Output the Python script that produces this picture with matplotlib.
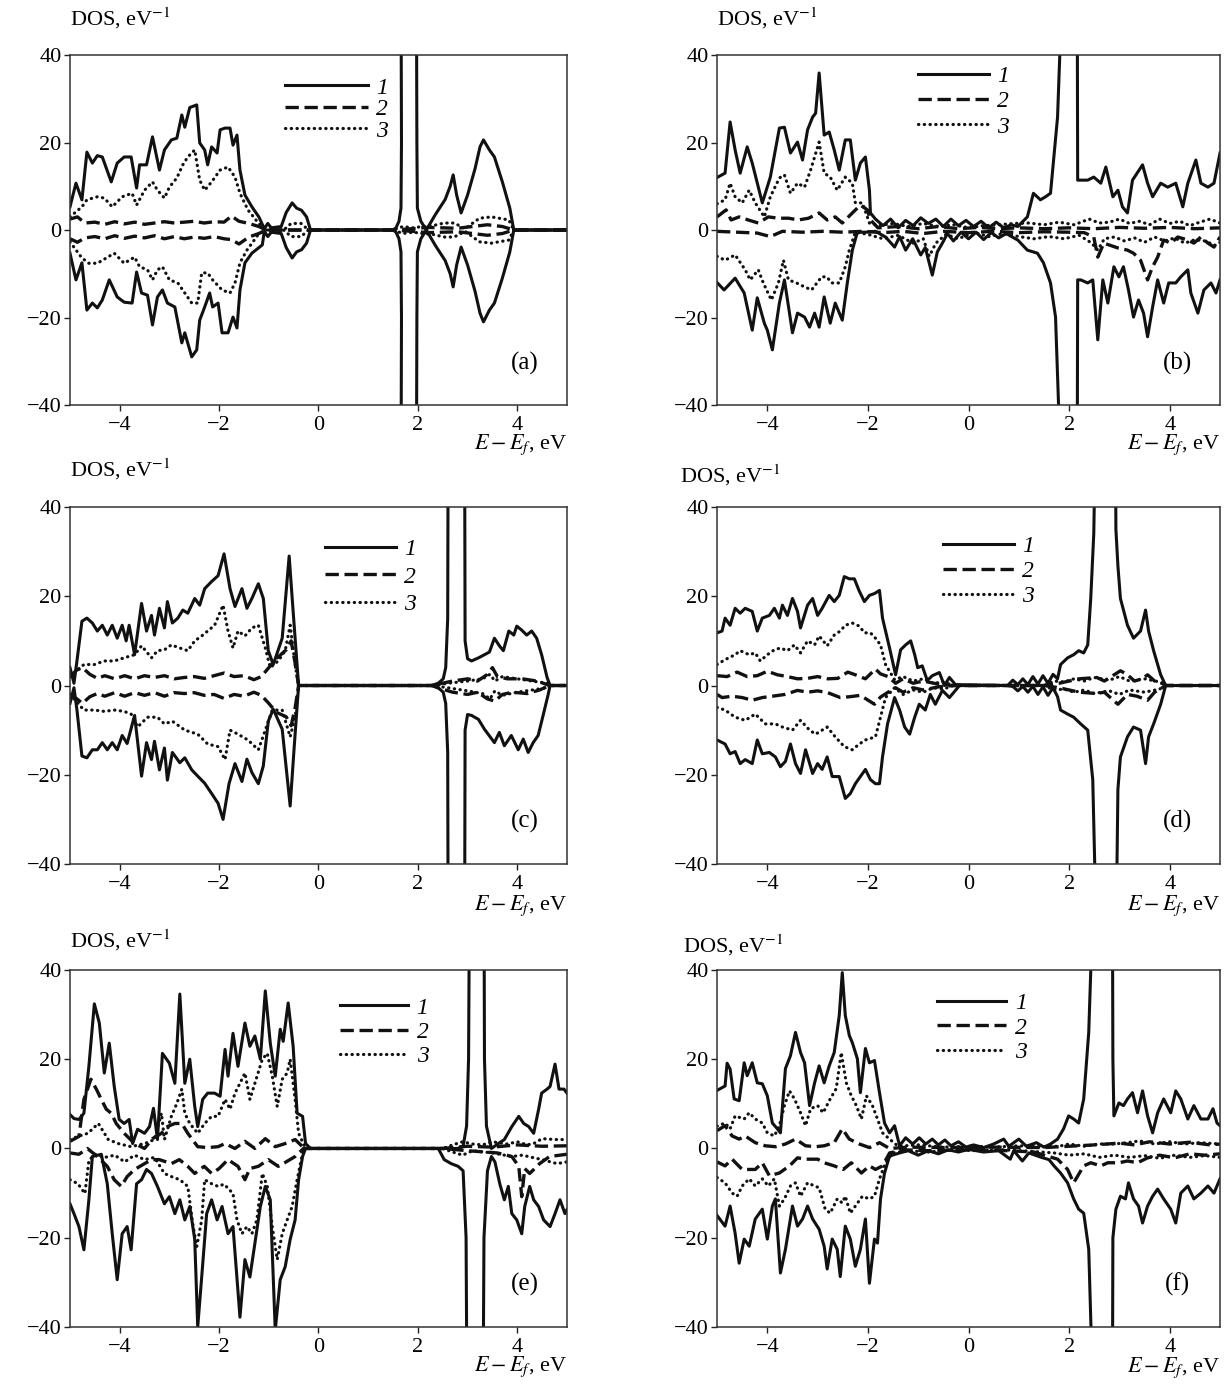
import matplotlib
matplotlib.use("Agg")
import matplotlib.pyplot as plt

plt.rcParams['font.family'] = ['Liberation Serif', 'DejaVu Serif']
plt.rcParams['mathtext.fontset'] = 'stix'

# spin-resolved DOS: (E - Ef [eV], DOS [1/eV])
# s = total (1), h = dashed (2), d = dotted (3); up > 0, dn < 0

a_s_up = [(-5.0,5.3),(-4.88,10.7),(-4.76,6.9),(-4.66,17.8),(-4.55,15.3),(-4.45,17.0),(-4.35,16.7),(-4.17,11.0),(-4.05,15.3),(-3.91,16.7),(-3.77,16.7),(-3.66,9.6),(-3.60,14.9),(-3.46,14.9),(-3.34,21.3),(-3.20,13.7),(-3.10,18.3),(-2.96,20.6),(-2.85,21.0),(-2.75,26.3),(-2.69,23.5),(-2.59,28.0),(-2.45,28.6),(-2.39,19.9),(-2.29,18.3),(-2.23,14.9),(-2.15,19.0),(-2.04,17.6),(-1.98,22.9),(-1.88,23.3),(-1.78,23.3),(-1.72,19.4),(-1.64,21.7),(-1.58,13.7),(-1.48,8.0),(-1.34,5.3),(-1.20,3.0),(-1.09,0.3),(-1.02,1.5),(-0.95,0.5),(-0.75,0.8),(-0.65,4.0),(-0.53,6.2),(-0.44,5.0),(-0.34,4.5),(-0.24,3.0),(-0.16,0.0),(1.50,0.0),(1.56,0.5),(1.62,2.0),(1.66,5.0),(1.67,20.0),(1.66,60.0),(1.97,60.0),(1.98,20.0),(1.99,5.0),(2.06,2.0),(2.17,0.0),(2.35,3.5),(2.55,7.0),(2.65,10.0),(2.71,12.6),(2.78,8.0),(2.87,3.9),(3.00,8.0),(3.15,14.0),(3.25,19.0),(3.32,20.6),(3.44,18.3),(3.54,16.7),(3.70,11.0),(3.85,5.0),(3.93,0.0),(5.0,0.0)]
a_s_dn = [(-5.0,-5.3),(-4.88,-11.4),(-4.76,-7.5),(-4.66,-18.3),(-4.55,-16.7),(-4.45,-17.8),(-4.35,-16.0),(-4.21,-11.4),(-4.05,-15.3),(-3.91,-16.5),(-3.75,-16.7),(-3.66,-9.6),(-3.56,-14.4),(-3.44,-14.9),(-3.34,-21.7),(-3.24,-15.3),(-3.14,-13.7),(-3.04,-16.7),(-2.89,-17.6),(-2.75,-25.8),(-2.69,-23.5),(-2.55,-29.0),(-2.45,-27.4),(-2.39,-20.6),(-2.29,-17.6),(-2.19,-14.4),(-2.13,-17.6),(-2.02,-16.7),(-1.94,-23.5),(-1.82,-23.5),(-1.72,-19.9),(-1.64,-22.4),(-1.58,-13.7),(-1.48,-7.5),(-1.34,-5.3),(-1.13,-3.4),(-1.09,-0.3),(-1.02,-1.5),(-0.95,-0.5),(-0.75,-0.8),(-0.65,-4.0),(-0.53,-6.4),(-0.44,-5.0),(-0.34,-4.5),(-0.24,-3.0),(-0.16,0.0),(1.50,0.0),(1.56,-0.5),(1.62,-2.0),(1.66,-5.0),(1.67,-20.0),(1.66,-60.0),(1.97,-60.0),(1.98,-20.0),(1.99,-5.0),(2.06,-2.0),(2.17,0.0),(2.35,-3.5),(2.55,-7.0),(2.65,-10.0),(2.71,-13.0),(2.78,-8.0),(2.87,-3.9),(3.00,-8.0),(3.15,-14.0),(3.25,-19.0),(3.32,-21.0),(3.44,-18.3),(3.54,-16.7),(3.70,-11.0),(3.85,-5.0),(3.93,0.0),(5.0,0.0)]
a_h_up = [(-5.0,2.5),(-4.85,3.0),(-4.7,1.6),(-4.5,1.8),(-4.3,1.3),(-4.1,1.9),(-3.9,1.4),(-3.7,1.8),(-3.5,1.3),(-3.3,1.6),(-3.1,1.9),(-2.9,1.6),(-2.7,1.8),(-2.5,2.0),(-2.3,1.6),(-2.1,1.9),(-1.9,1.8),(-1.75,3.2),(-1.6,2.0),(-1.4,1.5),(-1.2,0.8),(-1.05,0.0),(1.5,0.0),(2.0,0.4),(2.2,0.6),(2.5,0.5),(2.8,0.4),(3.1,0.8),(3.4,1.2),(3.7,0.8),(3.93,0.0),(5.0,0.0)]
a_h_dn = [(-5.0,-2.0),(-4.85,-2.8),(-4.7,-1.8),(-4.5,-1.5),(-4.3,-2.0),(-4.1,-1.3),(-3.9,-1.9),(-3.7,-1.4),(-3.5,-1.8),(-3.3,-1.3),(-3.1,-2.0),(-2.9,-1.5),(-2.7,-2.0),(-2.5,-1.6),(-2.3,-1.9),(-2.1,-1.5),(-1.9,-2.0),(-1.75,-2.2),(-1.6,-3.2),(-1.4,-1.6),(-1.2,-0.8),(-1.05,0.0),(1.5,0.0),(2.0,-0.4),(2.2,-0.6),(2.5,-0.5),(2.8,-0.4),(3.1,-0.8),(3.4,-1.2),(3.7,-0.8),(3.93,0.0),(5.0,0.0)]
a_d_up = [(-5.0,3.0),(-4.76,5.3),(-4.66,6.9),(-4.45,7.6),(-4.31,7.3),(-4.15,5.3),(-3.95,7.6),(-3.75,8.4),(-3.66,5.7),(-3.50,9.1),(-3.34,11.0),(-3.24,9.1),(-3.10,7.3),(-3.00,9.8),(-2.85,11.9),(-2.73,14.9),(-2.63,16.7),(-2.49,18.3),(-2.39,11.4),(-2.29,9.1),(-2.15,11.0),(-1.98,13.7),(-1.82,14.4),(-1.68,12.1),(-1.58,8.4),(-1.42,4.6),(-1.21,1.6),(-1.07,0.0),(-0.70,0.0),(-0.55,1.5),(-0.35,1.5),(-0.2,0.0),(1.5,0.0),(1.7,0.8),(1.9,0.5),(2.1,0.8),(2.3,1.0),(2.53,1.6),(2.73,1.6),(2.95,0.3),(3.24,2.7),(3.48,3.0),(3.83,2.3),(3.93,0.0),(5.0,0.0)]
a_d_dn = [(-5.0,-2.7),(-4.76,-6.4),(-4.62,-7.6),(-4.45,-7.6),(-4.27,-6.4),(-4.11,-5.3),(-3.91,-7.6),(-3.70,-6.2),(-3.60,-8.4),(-3.44,-9.1),(-3.34,-11.4),(-3.24,-9.1),(-3.14,-8.4),(-3.00,-11.4),(-2.83,-12.1),(-2.69,-14.4),(-2.55,-16.7),(-2.43,-16.7),(-2.35,-9.8),(-2.23,-9.8),(-2.13,-11.4),(-1.94,-13.7),(-1.78,-14.4),(-1.68,-12.1),(-1.58,-7.5),(-1.44,-4.6),(-1.21,-1.0),(-1.07,0.0),(-0.70,0.0),(-0.55,-1.5),(-0.35,-1.5),(-0.2,0.0),(1.5,0.0),(1.7,-0.8),(1.9,-0.5),(2.1,-0.8),(2.3,-1.0),(2.53,-1.6),(2.73,-1.6),(2.95,-0.3),(3.24,-2.7),(3.48,-3.0),(3.83,-2.3),(3.93,0.0),(5.0,0.0)]

b_s_up = [(-5.0,12.0),(-4.84,13.0),(-4.74,24.7),(-4.64,18.3),(-4.54,13.0),(-4.40,19.0),(-4.30,15.3),(-4.10,6.2),(-3.94,12.1),(-3.76,23.3),(-3.66,23.5),(-3.54,17.6),(-3.40,20.1),(-3.30,16.0),(-3.20,22.9),(-3.10,25.8),(-3.04,26.7),(-2.97,35.9),(-2.87,21.7),(-2.77,22.4),(-2.67,18.3),(-2.57,13.7),(-2.45,20.6),(-2.35,20.6),(-2.25,11.4),(-2.15,15.3),(-2.05,16.7),(-1.97,9.1),(-1.95,3.9),(-1.85,2.5),(-1.70,1.0),(-1.55,2.5),(-1.40,0.5),(-1.25,2.2),(-1.10,1.0),(-0.95,2.8),(-0.80,1.5),(-0.65,2.5),(-0.50,0.8),(-0.35,2.5),(-0.20,1.0),(-0.05,2.2),(0.10,0.8),(0.25,2.0),(0.40,0.5),(0.55,1.8),(0.70,0.5),(0.85,1.2),(0.98,0.8),(1.17,3.0),(1.29,8.4),(1.43,6.9),(1.53,7.6),(1.63,8.4),(1.77,25.8),(1.83,45.0),(1.85,60.0),(2.16,60.0),(2.17,11.4),(2.23,11.4),(2.37,11.4),(2.49,12.1),(2.63,10.7),(2.73,14.4),(2.87,7.6),(2.97,9.1),(3.06,5.3),(3.16,3.9),(3.26,11.4),(3.46,14.9),(3.56,10.7),(3.66,7.6),(3.82,10.7),(3.96,9.8),(4.12,10.7),(4.26,5.3),(4.36,10.7),(4.52,16.0),(4.62,10.7),(4.76,9.8),(4.88,10.7),(5.0,17.6)]
b_s_dn = [(-5.0,-12.0),(-4.86,-13.7),(-4.64,-11.0),(-4.46,-14.4),(-4.30,-22.9),(-4.20,-15.5),(-4.06,-21.3),(-4.00,-22.9),(-3.90,-27.4),(-3.76,-16.7),(-3.66,-11.4),(-3.50,-23.5),(-3.40,-19.0),(-3.26,-19.9),(-3.16,-22.2),(-3.06,-19.0),(-2.97,-22.2),(-2.87,-15.3),(-2.75,-21.3),(-2.65,-16.7),(-2.51,-20.6),(-2.41,-12.1),(-2.31,-4.6),(-2.21,-0.5),(-2.05,-0.5),(-1.85,-0.3),(-1.65,-1.6),(-1.47,-3.9),(-1.37,-1.5),(-1.25,-4.6),(-1.11,-2.0),(-0.95,-5.7),(-0.86,-4.0),(-0.72,-10.3),(-0.62,-5.0),(-0.52,-3.0),(-0.42,-0.8),(-0.30,-2.5),(-0.15,-0.5),(0.0,-2.0),(0.15,-0.5),(0.30,-2.2),(0.45,-0.6),(0.60,-1.8),(0.75,-0.8),(0.90,-1.8),(0.98,-2.3),(1.17,-4.6),(1.37,-5.3),(1.49,-7.5),(1.63,-12.1),(1.73,-19.9),(1.79,-40.0),(1.80,-60.0),(2.16,-60.0),(2.17,-11.4),(2.23,-11.4),(2.37,-12.1),(2.47,-11.4),(2.57,-25.1),(2.67,-11.4),(2.77,-16.7),(2.89,-8.4),(2.99,-10.7),(3.08,-8.4),(3.18,-13.7),(3.28,-19.9),(3.38,-16.0),(3.48,-19.0),(3.56,-24.4),(3.66,-17.6),(3.76,-11.4),(3.88,-16.7),(3.98,-12.1),(4.12,-12.1),(4.22,-10.7),(4.36,-9.1),(4.42,-14.4),(4.56,-19.0),(4.68,-13.7),(4.82,-12.1),(4.92,-14.4),(5.0,-11.4)]
b_h_up = [(-5.0,3.0),(-4.82,4.6),(-4.72,2.3),(-4.56,3.0),(-4.38,2.3),(-4.18,1.6),(-3.98,3.0),(-3.78,2.7),(-3.58,2.7),(-3.38,2.3),(-3.18,2.7),(-2.97,3.9),(-2.81,2.3),(-2.65,3.0),(-2.51,1.6),(-2.31,3.9),(-2.15,5.7),(-2.01,4.6),(-1.95,2.3),(-1.8,0.5),(-1.4,0.8),(-1.0,0.3),(-0.6,0.8),(-0.2,0.3),(0.2,0.6),(0.6,0.3),(1.0,0.5),(1.5,0.3),(2.0,0.5),(2.5,0.3),(3.0,0.6),(3.5,0.4),(4.0,0.6),(4.5,0.3),(5.0,0.5)]
b_h_dn = [(-5.0,-0.3),(-4.6,-0.5),(-4.2,-0.7),(-3.94,-1.5),(-3.7,-0.3),(-3.3,-0.5),(-2.9,-0.3),(-2.5,-0.5),(-2.1,-0.3),(-1.7,-0.6),(-1.3,-0.3),(-0.9,-0.8),(-0.5,-0.3),(0.0,-0.6),(0.5,-0.3),(1.0,-0.6),(1.5,-0.4),(2.0,-0.5),(2.3,-0.6),(2.49,-1.6),(2.57,-6.2),(2.69,-3.0),(2.97,-4.1),(3.16,-4.6),(3.28,-5.3),(3.42,-6.9),(3.56,-11.4),(3.66,-8.4),(3.76,-6.2),(3.88,-2.3),(4.02,-3.0),(4.16,-1.6),(4.36,-2.3),(4.48,-3.0),(4.62,-1.6),(4.76,-3.0),(4.88,-3.9),(5.0,-1.6)]
b_d_up = [(-5.0,6.0),(-4.84,6.9),(-4.74,10.7),(-4.64,7.6),(-4.50,6.2),(-4.36,9.1),(-4.24,6.2),(-4.06,3.0),(-3.94,7.6),(-3.76,11.9),(-3.66,12.6),(-3.54,8.4),(-3.40,10.7),(-3.26,9.8),(-3.14,13.7),(-2.97,20.1),(-2.87,13.0),(-2.75,12.1),(-2.61,9.1),(-2.45,12.1),(-2.31,10.7),(-2.25,6.2),(-2.11,6.2),(-1.97,1.6),(-1.8,1.0),(-1.5,1.5),(-1.2,0.8),(-0.9,1.5),(-0.6,0.8),(-0.3,1.2),(0.0,0.5),(0.3,1.0),(0.6,1.2),(0.9,1.5),(1.2,1.6),(1.5,1.2),(1.8,1.8),(2.1,1.2),(2.4,2.5),(2.6,1.6),(2.8,1.8),(3.0,2.5),(3.2,1.5),(3.4,2.0),(3.6,1.2),(3.8,2.5),(4.0,1.5),(4.2,2.0),(4.4,1.0),(4.6,1.8),(4.8,2.5),(5.0,1.6)]
b_d_dn = [(-5.0,-6.0),(-4.84,-6.9),(-4.64,-5.7),(-4.44,-9.1),(-4.34,-11.4),(-4.18,-9.1),(-4.08,-12.1),(-3.92,-16.0),(-3.78,-12.1),(-3.68,-6.9),(-3.58,-11.4),(-3.42,-12.1),(-3.26,-13.0),(-3.12,-13.7),(-2.92,-10.7),(-2.82,-10.7),(-2.72,-12.1),(-2.57,-12.1),(-2.45,-8.4),(-2.37,-4.6),(-2.25,-0.5),(-2.0,-1.0),(-1.7,-2.0),(-1.4,-1.2),(-1.1,-3.0),(-0.9,-2.0),(-0.78,-6.0),(-0.65,-3.0),(-0.45,-1.0),(-0.2,-2.0),(0.1,-0.5),(0.4,-1.5),(0.7,-0.8),(1.0,-1.5),(1.3,-2.0),(1.6,-1.5),(1.9,-2.0),(2.2,-1.2),(2.45,-3.0),(2.57,-4.6),(2.7,-2.0),(2.9,-1.6),(3.1,-2.5),(3.3,-1.8),(3.5,-2.8),(3.7,-1.6),(3.9,-2.5),(4.1,-1.8),(4.3,-3.0),(4.5,-2.2),(4.7,-2.5),(4.9,-3.5),(5.0,-2.8)]

c_s_up = [(-5.0,4.0),(-4.92,0.5),(-4.86,5.5),(-4.76,14.4),(-4.66,15.1),(-4.55,14.0),(-4.45,12.2),(-4.35,13.5),(-4.25,11.3),(-4.15,13.5),(-4.05,10.6),(-3.95,13.5),(-3.87,10.0),(-3.81,13.5),(-3.70,6.9),(-3.56,18.4),(-3.46,12.2),(-3.36,15.7),(-3.30,11.3),(-3.20,17.3),(-3.10,12.9),(-3.04,18.8),(-2.94,14.0),(-2.83,15.1),(-2.73,16.9),(-2.63,16.2),(-2.49,19.5),(-2.39,18.0),(-2.29,21.7),(-2.15,23.3),(-2.02,24.6),(-1.90,29.5),(-1.78,21.7),(-1.68,17.7),(-1.54,21.7),(-1.44,17.3),(-1.34,19.5),(-1.21,22.8),(-1.11,19.5),(-1.01,7.8),(-0.91,4.7),(-0.73,10.6),(-0.59,29.0),(-0.51,16.6),(-0.40,0.0),(2.27,0.0),(2.41,0.5),(2.51,1.5),(2.56,4.0),(2.60,15.0),(2.61,60.0),(2.94,60.0),(2.95,10.0),(3.00,6.0),(3.08,5.5),(3.22,6.2),(3.34,6.9),(3.44,7.5),(3.54,10.6),(3.64,8.9),(3.72,7.8),(3.83,12.2),(3.93,11.3),(3.99,13.3),(4.09,12.4),(4.19,11.3),(4.29,12.2),(4.39,10.6),(4.49,6.9),(4.60,1.8),(4.66,0.0),(5.0,0.0)]
c_s_dn = [(-5.0,-4.0),(-4.92,-0.5),(-4.86,-5.5),(-4.76,-15.8),(-4.66,-16.2),(-4.55,-14.4),(-4.45,-14.4),(-4.35,-12.8),(-4.25,-14.4),(-4.15,-12.8),(-4.05,-14.4),(-3.95,-11.2),(-3.85,-13.0),(-3.70,-6.7),(-3.56,-20.3),(-3.46,-12.8),(-3.36,-16.6),(-3.30,-12.5),(-3.20,-18.9),(-3.10,-14.0),(-3.04,-21.2),(-2.94,-15.0),(-2.79,-17.3),(-2.69,-16.2),(-2.55,-18.9),(-2.43,-20.3),(-2.29,-21.9),(-2.15,-24.2),(-2.02,-26.4),(-1.92,-30.0),(-1.80,-22.0),(-1.68,-17.5),(-1.54,-21.5),(-1.44,-16.5),(-1.34,-19.5),(-1.21,-22.0),(-1.11,-18.0),(-1.01,-8.0),(-0.91,-5.3),(-0.73,-9.8),(-0.57,-27.0),(-0.49,-14.0),(-0.40,0.0),(2.27,0.0),(2.41,-0.5),(2.51,-1.5),(2.56,-4.0),(2.60,-15.0),(2.61,-60.0),(2.94,-60.0),(2.95,-10.0),(3.00,-6.5),(3.08,-6.7),(3.22,-7.6),(3.34,-9.8),(3.54,-12.8),(3.64,-10.5),(3.74,-13.5),(3.88,-11.2),(4.02,-14.4),(4.12,-12.0),(4.22,-15.0),(4.32,-12.8),(4.42,-11.2),(4.52,-6.7),(4.62,-2.1),(4.66,0.0),(5.0,0.0)]
c_h_up = [(-5.0,2.0),(-4.86,3.5),(-4.75,4.0),(-4.6,2.5),(-4.45,1.6),(-4.3,2.2),(-4.1,1.5),(-3.9,2.2),(-3.7,1.5),(-3.5,2.2),(-3.3,1.8),(-3.1,2.2),(-2.9,1.5),(-2.7,1.8),(-2.5,2.0),(-2.3,1.6),(-2.1,2.2),(-1.9,2.8),(-1.7,2.0),(-1.5,2.2),(-1.3,1.3),(-1.15,2.0),(-1.0,4.0),(-0.85,6.0),(-0.65,8.0),(-0.55,10.0),(-0.47,5.0),(-0.40,0.0),(2.30,0.0),(2.4,0.3),(2.7,1.0),(3.0,1.5),(3.2,1.0),(3.4,2.5),(3.5,4.0),(3.6,2.0),(3.8,1.5),(4.1,1.5),(4.4,1.0),(4.65,0.0),(5.0,0.0)]
c_h_dn = [(-5.0,-2.0),(-4.86,-3.0),(-4.75,-4.0),(-4.6,-2.5),(-4.45,-1.8),(-4.3,-2.4),(-4.1,-1.6),(-3.9,-2.4),(-3.7,-1.6),(-3.5,-2.2),(-3.3,-1.6),(-3.1,-2.4),(-2.9,-1.6),(-2.7,-1.8),(-2.5,-1.6),(-2.3,-2.2),(-2.1,-2.0),(-1.9,-2.9),(-1.7,-2.0),(-1.5,-2.4),(-1.3,-1.5),(-1.15,-2.2),(-1.0,-4.0),(-0.85,-6.0),(-0.65,-7.0),(-0.55,-9.0),(-0.47,-5.0),(-0.40,0.0),(2.30,0.0),(2.4,-0.5),(2.7,-1.5),(3.0,-2.0),(3.2,-1.5),(3.4,-3.0),(3.55,-3.5),(3.7,-2.0),(3.9,-1.5),(4.2,-1.8),(4.45,-1.0),(4.65,0.0),(5.0,0.0)]
c_d_up = [(-5.0,2.0),(-4.72,4.7),(-4.51,4.7),(-4.31,5.5),(-4.11,5.5),(-3.91,6.2),(-3.70,6.9),(-3.56,8.9),(-3.36,6.2),(-3.24,7.8),(-3.10,8.0),(-2.96,9.1),(-2.79,8.4),(-2.63,7.8),(-2.49,10.0),(-2.35,11.1),(-2.23,12.2),(-2.09,13.5),(-1.92,18.0),(-1.82,12.2),(-1.72,8.4),(-1.62,12.2),(-1.48,11.1),(-1.34,12.9),(-1.21,13.5),(-1.07,8.4),(-0.97,4.0),(-0.81,5.5),(-0.67,7.8),(-0.57,13.5),(-0.47,4.7),(-0.40,0.0),(2.30,0.0),(2.6,0.5),(3.0,1.0),(3.3,1.5),(3.45,2.5),(3.55,1.0),(3.7,2.0),(4.0,1.5),(4.3,1.0),(4.6,0.5),(4.7,0.0),(5.0,0.0)]
c_d_dn = [(-5.0,-2.0),(-4.72,-5.5),(-4.51,-5.5),(-4.31,-5.8),(-4.11,-5.5),(-3.91,-5.8),(-3.77,-6.4),(-3.64,-9.3),(-3.44,-7.1),(-3.24,-7.1),(-3.10,-8.6),(-2.94,-8.0),(-2.69,-10.0),(-2.43,-10.9),(-2.23,-13.1),(-2.02,-13.7),(-1.88,-16.6),(-1.78,-10.0),(-1.62,-10.9),(-1.42,-12.2),(-1.21,-14.4),(-1.07,-10.0),(-0.93,-5.5),(-0.73,-5.5),(-0.57,-11.5),(-0.47,-7.1),(-0.40,0.0),(2.30,0.0),(2.6,-0.5),(3.0,-1.2),(3.3,-1.8),(3.45,-3.0),(3.55,-1.2),(3.7,-2.2),(4.0,-1.5),(4.3,-1.0),(4.6,-0.5),(4.7,0.0),(5.0,0.0)]

d_s_up = [(-5.0,11.8),(-4.90,12.2),(-4.84,15.1),(-4.74,13.5),(-4.64,17.3),(-4.54,16.2),(-4.44,17.3),(-4.30,16.6),(-4.20,12.2),(-4.10,15.1),(-3.96,15.7),(-3.86,17.3),(-3.76,15.1),(-3.70,18.0),(-3.60,15.7),(-3.50,19.5),(-3.40,16.6),(-3.34,12.9),(-3.20,18.0),(-3.10,19.5),(-3.00,15.7),(-2.91,17.3),(-2.77,20.2),(-2.67,18.8),(-2.57,20.2),(-2.47,24.4),(-2.37,23.9),(-2.27,23.9),(-2.17,21.1),(-2.07,18.8),(-1.97,20.2),(-1.87,20.6),(-1.77,21.3),(-1.71,15.1),(-1.57,8.4),(-1.45,2.4),(-1.35,8.0),(-1.25,9.1),(-1.15,10.0),(-1.07,6.9),(-1.01,4.0),(-0.92,4.4),(-0.82,1.1),(-0.72,2.2),(-0.58,2.9),(-0.48,0.0),(-0.38,1.8),(-0.26,0.2),(0.78,0.0),(0.88,1.2),(0.98,0.2),(1.08,1.5),(1.18,0.2),(1.28,2.0),(1.38,0.3),(1.48,2.2),(1.58,0.5),(1.68,2.5),(1.77,1.5),(1.83,4.7),(1.97,6.2),(2.09,6.9),(2.19,7.8),(2.29,7.3),(2.37,9.1),(2.43,19.5),(2.49,34.0),(2.53,60.0),(2.92,60.0),(2.93,35.0),(2.97,26.8),(3.02,19.5),(3.16,13.5),(3.28,10.6),(3.42,12.2),(3.52,16.9),(3.58,12.2),(3.68,7.8),(3.82,2.4),(3.92,0.0),(5.0,0.0)]
d_s_dn = [(-5.0,-12.2),(-4.84,-13.1),(-4.74,-15.3),(-4.64,-14.8),(-4.54,-17.5),(-4.44,-16.6),(-4.30,-17.5),(-4.20,-12.2),(-4.10,-15.3),(-3.96,-15.0),(-3.84,-16.0),(-3.74,-18.2),(-3.64,-17.0),(-3.54,-13.1),(-3.44,-17.5),(-3.34,-19.7),(-3.24,-14.4),(-3.10,-19.7),(-3.00,-17.5),(-2.91,-18.8),(-2.81,-16.0),(-2.71,-20.4),(-2.57,-20.4),(-2.45,-25.3),(-2.35,-24.2),(-2.25,-22.0),(-2.15,-20.4),(-2.05,-18.8),(-1.95,-21.1),(-1.85,-22.0),(-1.77,-22.0),(-1.71,-16.0),(-1.61,-8.6),(-1.47,-2.7),(-1.37,-5.5),(-1.27,-9.3),(-1.17,-10.9),(-1.07,-7.1),(-0.98,-4.2),(-0.86,-5.5),(-0.76,-2.0),(-0.66,-4.2),(-0.52,-1.1),(-0.38,-2.7),(-0.26,-1.1),(-0.18,0.0),(0.78,0.0),(0.88,-0.2),(0.98,-1.2),(1.08,-0.2),(1.18,-1.5),(1.28,-0.2),(1.38,-2.0),(1.48,-0.3),(1.58,-2.2),(1.68,-0.5),(1.77,-2.5),(1.83,-5.5),(1.97,-6.4),(2.09,-7.1),(2.23,-8.6),(2.37,-10.0),(2.47,-21.1),(2.55,-60.0),(2.93,-60.0),(2.97,-23.3),(3.02,-16.0),(3.16,-11.5),(3.28,-9.3),(3.42,-10.0),(3.52,-17.5),(3.58,-11.5),(3.68,-8.6),(3.82,-4.2),(3.92,0.0),(5.0,0.0)]
d_h_up = [(-5.0,2.2),(-4.8,2.0),(-4.6,3.0),(-4.4,2.0),(-4.2,2.2),(-4.0,3.2),(-3.8,2.4),(-3.6,2.0),(-3.4,1.5),(-3.2,1.6),(-3.0,2.0),(-2.8,1.5),(-2.6,1.6),(-2.4,3.0),(-2.25,2.4),(-2.05,1.5),(-1.85,3.7),(-1.75,2.6),(-1.6,2.0),(-1.45,0.5),(-1.3,1.5),(-1.1,0.5),(-0.9,1.0),(-0.6,0.3),(-0.3,0.0),(1.5,0.0),(1.8,0.5),(2.0,1.0),(2.2,1.5),(2.55,1.8),(2.7,1.0),(3.02,3.3),(3.15,2.5),(3.3,1.0),(3.45,1.5),(3.56,2.4),(3.7,1.0),(3.85,0.5),(3.92,0.0),(5.0,0.0)]
d_h_dn = [(-5.0,-2.0),(-4.9,-2.7),(-4.7,-2.4),(-4.5,-2.7),(-4.3,-3.3),(-4.1,-2.7),(-3.9,-2.4),(-3.65,-2.0),(-3.4,-1.1),(-3.2,-1.5),(-3.0,-1.2),(-2.8,-1.6),(-2.55,-2.7),(-2.35,-2.5),(-2.15,-2.2),(-1.87,-4.2),(-1.75,-2.6),(-1.6,-1.5),(-1.45,-0.5),(-1.3,-1.5),(-1.1,-0.5),(-0.9,-1.0),(-0.6,-0.3),(-0.3,0.0),(1.5,0.0),(1.8,-0.5),(2.0,-1.0),(2.2,-1.5),(2.55,-1.8),(2.7,-1.5),(2.97,-4.2),(3.16,-2.0),(3.35,-2.4),(3.56,-3.3),(3.7,-1.5),(3.85,-0.5),(3.92,0.0),(5.0,0.0)]
d_d_up = [(-5.0,4.7),(-4.84,5.8),(-4.64,6.9),(-4.54,7.8),(-4.36,6.9),(-4.24,7.3),(-4.14,5.5),(-4.00,6.9),(-3.86,8.0),(-3.74,8.4),(-3.60,7.8),(-3.46,9.1),(-3.34,7.3),(-3.20,10.0),(-3.06,9.1),(-2.97,11.1),(-2.81,8.9),(-2.67,11.3),(-2.55,12.2),(-2.45,13.5),(-2.31,14.0),(-2.17,13.3),(-2.07,11.8),(-1.95,11.8),(-1.85,10.6),(-1.75,9.1),(-1.65,4.7),(-1.47,1.3),(-1.3,2.0),(-1.1,1.0),(-0.9,1.5),(-0.7,0.5),(-0.5,0.8),(-0.3,0.0),(1.5,0.0),(1.7,1.0),(1.9,0.8),(2.1,1.5),(2.3,1.0),(2.5,1.8),(2.8,1.2),(3.0,2.0),(3.2,1.0),(3.5,1.5),(3.8,0.8),(3.92,0.0),(5.0,0.0)]
d_d_dn = [(-5.0,-4.9),(-4.84,-5.5),(-4.64,-7.1),(-4.44,-7.8),(-4.24,-6.4),(-4.04,-8.6),(-3.84,-8.6),(-3.70,-9.3),(-3.50,-10.0),(-3.34,-7.8),(-3.16,-10.0),(-3.04,-10.9),(-2.81,-9.3),(-2.65,-11.5),(-2.47,-13.7),(-2.31,-14.4),(-2.17,-13.1),(-2.05,-12.2),(-1.85,-11.5),(-1.75,-7.1),(-1.65,-2.7),(-1.47,-0.5),(-1.3,-2.0),(-1.1,-1.0),(-0.9,-1.5),(-0.7,-0.5),(-0.5,-0.8),(-0.3,0.0),(1.5,0.0),(1.7,-1.0),(1.9,-0.8),(2.1,-1.5),(2.3,-1.0),(2.5,-1.8),(2.8,-1.2),(3.0,-2.0),(3.2,-1.0),(3.5,-1.5),(3.8,-0.8),(3.92,0.0),(5.0,0.0)]

e_s_up = [(-5.0,7.6),(-4.92,6.7),(-4.82,6.5),(-4.72,7.9),(-4.62,18.4),(-4.51,32.4),(-4.41,28.1),(-4.31,16.9),(-4.21,23.6),(-4.11,13.9),(-4.01,6.5),(-3.91,5.6),(-3.81,6.5),(-3.74,1.1),(-3.64,4.3),(-3.50,3.4),(-3.40,4.9),(-3.32,9.0),(-3.24,2.0),(-3.14,21.3),(-3.00,19.1),(-2.89,14.6),(-2.79,34.6),(-2.69,14.6),(-2.59,20.0),(-2.49,9.4),(-2.43,4.9),(-2.33,11.0),(-2.23,12.4),(-2.09,12.4),(-1.98,11.7),(-1.88,22.2),(-1.82,16.2),(-1.72,25.8),(-1.62,18.4),(-1.48,28.1),(-1.38,22.9),(-1.28,25.2),(-1.17,20.0),(-1.07,35.3),(-0.97,23.6),(-0.87,16.2),(-0.77,26.7),(-0.71,24.0),(-0.61,32.6),(-0.51,22.9),(-0.43,7.9),(-0.32,7.2),(-0.26,1.1),(-0.16,0.0),(2.80,0.0),(2.91,0.5),(2.98,5.0),(3.02,20.0),(3.04,60.0),(3.33,60.0),(3.34,20.0),(3.38,5.0),(3.48,0.0),(3.62,1.1),(3.74,2.0),(3.89,4.9),(4.03,7.2),(4.13,5.6),(4.23,4.9),(4.33,3.4),(4.43,8.8),(4.49,12.4),(4.60,13.3),(4.66,13.9),(4.76,18.9),(4.84,13.3),(4.94,13.3),(5.0,12.4)]
e_s_dn = [(-5.0,-12.4),(-4.92,-14.6),(-4.82,-17.5),(-4.72,-22.7),(-4.62,-11.5),(-4.55,-1.8),(-4.37,-1.3),(-4.25,-7.9),(-4.15,-19.1),(-4.05,-29.4),(-3.95,-19.1),(-3.85,-17.5),(-3.77,-22.7),(-3.66,-7.9),(-3.56,-7.0),(-3.46,-4.7),(-3.36,-5.6),(-3.24,-8.5),(-3.10,-12.4),(-3.00,-10.8),(-2.89,-14.6),(-2.79,-11.5),(-2.69,-16.0),(-2.59,-13.0),(-2.49,-20.4),(-2.43,-40.0),(-2.35,-28.8),(-2.25,-14.6),(-2.15,-11.5),(-2.04,-16.0),(-1.94,-13.0),(-1.82,-19.1),(-1.72,-17.5),(-1.58,-37.8),(-1.48,-24.9),(-1.38,-28.8),(-1.28,-21.3),(-1.17,-13.0),(-1.07,-8.5),(-0.97,-11.5),(-0.87,-40.7),(-0.77,-29.4),(-0.67,-26.5),(-0.57,-20.4),(-0.47,-16.0),(-0.40,-7.0),(-0.32,-1.8),(-0.26,0.0),(2.41,0.0),(2.53,-2.5),(2.67,-3.4),(2.81,-4.0),(2.91,-5.0),(2.97,-20.0),(2.99,-60.0),(3.31,-60.0),(3.33,-20.0),(3.40,-5.0),(3.48,-1.8),(3.55,-3.0),(3.65,-8.0),(3.74,-11.5),(3.82,-8.5),(3.89,-14.6),(3.99,-16.0),(4.09,-19.1),(4.15,-13.0),(4.25,-8.5),(4.33,-11.5),(4.43,-13.0),(4.53,-16.0),(4.66,-17.5),(4.76,-14.6),(4.86,-11.5),(4.96,-14.6),(5.0,-13.7)]
e_h_up = [(-5.0,1.6),(-4.82,2.7),(-4.72,11.0),(-4.58,15.5),(-4.47,13.3),(-4.37,11.0),(-4.27,8.8),(-4.17,7.9),(-4.07,5.6),(-3.91,3.4),(-3.70,1.1),(-3.50,0.0),(-3.34,2.2),(-3.16,3.4),(-3.04,4.9),(-2.89,5.6),(-2.75,5.6),(-2.63,3.4),(-2.43,0.4),(-2.23,0.2),(-2.02,0.4),(-1.88,1.1),(-1.68,0.0),(-1.48,1.6),(-1.28,0.0),(-1.07,2.2),(-0.87,0.4),(-0.67,1.1),(-0.47,2.0),(-0.32,0.4),(-0.26,0.0),(2.5,0.0),(3.0,0.5),(3.5,0.3),(4.0,0.8),(4.5,0.5),(5.0,0.6)]
e_h_dn = [(-5.0,-1.0),(-4.82,-1.3),(-4.65,0.0),(-4.45,-1.8),(-4.25,-4.0),(-4.11,-7.0),(-3.97,-8.5),(-3.85,-6.3),(-3.70,-4.7),(-3.50,-3.4),(-3.36,-2.5),(-3.20,-2.5),(-2.96,-3.4),(-2.80,-2.5),(-2.63,-4.0),(-2.49,-5.6),(-2.30,-4.0),(-2.15,-5.6),(-2.00,-4.5),(-1.82,-2.5),(-1.62,-4.0),(-1.48,-7.0),(-1.38,-4.5),(-1.21,-4.0),(-1.01,-2.5),(-0.81,-4.0),(-0.65,-3.0),(-0.47,-1.8),(-0.30,0.0),(2.5,0.0),(3.0,-0.5),(3.6,-1.0),(3.89,-1.8),(4.03,-4.0),(4.09,-10.8),(4.15,-4.5),(4.25,-5.6),(4.45,-3.4),(4.65,-1.8),(5.0,-1.3)]
e_d_up = [(-5.0,2.0),(-4.84,2.7),(-4.64,3.4),(-4.43,5.6),(-4.23,2.0),(-4.03,1.1),(-3.77,0.4),(-3.50,1.1),(-3.30,2.0),(-3.16,7.9),(-3.10,2.0),(-2.96,7.2),(-2.85,10.1),(-2.75,13.3),(-2.69,7.9),(-2.59,5.6),(-2.43,3.4),(-2.29,5.6),(-2.15,7.2),(-2.02,7.2),(-1.88,11.0),(-1.78,8.8),(-1.68,12.4),(-1.58,14.6),(-1.48,16.9),(-1.38,11.0),(-1.28,14.6),(-1.13,20.0),(-1.03,21.3),(-0.93,16.2),(-0.83,9.4),(-0.73,15.5),(-0.63,16.9),(-0.57,20.0),(-0.47,11.0),(-0.40,3.4),(-0.26,0.0),(2.5,0.0),(2.7,0.8),(2.9,1.5),(3.1,1.0),(3.3,0.8),(3.5,1.5),(3.8,1.0),(4.0,1.5),(4.2,0.8),(4.33,1.1),(4.5,2.2),(4.76,2.0),(5.0,2.0)]
e_d_dn = [(-5.0,-7.0),(-4.84,-7.9),(-4.70,-10.1),(-4.62,-2.7),(-4.5,-1.3),(-4.3,-2.0),(-4.1,-1.5),(-3.9,-3.0),(-3.7,-1.5),(-3.5,-2.5),(-3.3,-2.0),(-3.10,-5.6),(-2.96,-6.3),(-2.79,-7.0),(-2.63,-8.5),(-2.53,-16.9),(-2.45,-22.0),(-2.35,-16.0),(-2.29,-7.0),(-2.15,-7.9),(-2.02,-8.5),(-1.90,-8.0),(-1.72,-10.1),(-1.64,-16.0),(-1.54,-19.1),(-1.44,-17.5),(-1.34,-19.1),(-1.24,-16.0),(-1.13,-5.6),(-1.03,-8.5),(-0.93,-17.5),(-0.83,-24.9),(-0.73,-19.1),(-0.63,-16.0),(-0.53,-13.0),(-0.43,-7.0),(-0.30,0.0),(2.5,0.0),(2.7,-0.8),(2.9,-1.5),(3.1,-0.5),(3.5,-1.0),(3.89,-1.8),(4.1,-1.5),(4.3,-2.0),(4.5,-2.5),(4.8,-3.4),(5.0,-3.0)]

f_s_up = [(-5.0,13.0),(-4.84,14.0),(-4.80,19.1),(-4.74,17.8),(-4.66,11.1),(-4.56,10.7),(-4.46,19.2),(-4.40,16.3),(-4.30,19.2),(-4.20,14.7),(-4.10,14.5),(-4.00,11.8),(-3.90,5.7),(-3.80,4.4),(-3.74,3.5),(-3.64,17.9),(-3.54,20.8),(-3.44,26.0),(-3.34,21.5),(-3.26,19.2),(-3.16,9.6),(-3.06,14.7),(-2.97,18.5),(-2.87,14.7),(-2.77,18.5),(-2.67,21.5),(-2.57,29.8),(-2.51,39.4),(-2.45,29.8),(-2.37,25.3),(-2.31,23.7),(-2.21,20.1),(-2.15,12.5),(-2.05,22.4),(-1.97,19.2),(-1.87,19.7),(-1.77,12.5),(-1.67,5.7),(-1.57,3.5),(-1.47,5.1),(-1.37,0.6),(-1.25,2.4),(-1.11,1.0),(-0.98,2.4),(-0.85,1.0),(-0.72,2.1),(-0.60,0.8),(-0.47,1.9),(-0.35,0.6),(-0.20,1.5),(-0.05,0.3),(0.10,0.8),(0.30,0.2),(0.50,1.0),(0.70,2.1),(0.80,0.5),(1.00,2.1),(1.15,0.5),(1.35,1.3),(1.50,0.3),(1.63,1.0),(1.77,2.1),(1.89,4.4),(1.99,7.3),(2.09,6.6),(2.19,5.7),(2.29,11.1),(2.39,26.0),(2.46,50.0),(2.47,60.0),(2.86,60.0),(2.87,20.0),(2.89,7.3),(2.99,10.2),(3.08,9.6),(3.16,11.1),(3.26,12.5),(3.36,8.0),(3.46,12.9),(3.56,7.3),(3.66,3.5),(3.76,8.0),(3.88,11.1),(4.02,8.0),(4.12,12.9),(4.22,11.1),(4.36,6.6),(4.48,9.6),(4.62,6.6),(4.76,6.6),(4.86,8.9),(4.94,5.7),(5.0,5.1)]
f_s_dn = [(-5.0,-15.0),(-4.84,-17.4),(-4.74,-12.9),(-4.64,-19.0),(-4.56,-25.7),(-4.46,-20.3),(-4.36,-21.9),(-4.24,-15.8),(-4.10,-13.6),(-4.00,-20.3),(-3.90,-12.9),(-3.84,-11.3),(-3.74,-27.9),(-3.64,-22.6),(-3.50,-12.9),(-3.40,-17.4),(-3.30,-15.8),(-3.20,-12.9),(-3.10,-15.8),(-2.97,-18.1),(-2.87,-21.9),(-2.81,-27.0),(-2.71,-20.3),(-2.61,-22.6),(-2.55,-28.7),(-2.45,-17.4),(-2.35,-20.3),(-2.25,-26.4),(-2.15,-22.6),(-2.05,-15.8),(-1.97,-30.2),(-1.87,-20.3),(-1.81,-21.2),(-1.75,-11.3),(-1.67,-5.5),(-1.57,-1.7),(-1.37,-1.0),(-1.20,-0.5),(-1.00,-1.5),(-0.80,-0.5),(-0.60,-1.2),(-0.40,-0.3),(-0.20,-0.8),(0.00,-0.2),(0.30,-0.8),(0.60,-0.5),(0.83,-2.4),(0.90,-0.5),(1.07,-2.8),(1.20,-1.0),(1.45,-2.0),(1.60,-2.5),(1.70,-3.9),(1.83,-5.5),(1.97,-7.7),(2.09,-11.3),(2.19,-13.6),(2.29,-14.5),(2.39,-22.6),(2.46,-50.0),(2.47,-60.0),(2.86,-60.0),(2.87,-20.0),(2.93,-13.6),(3.02,-10.7),(3.12,-11.3),(3.18,-7.7),(3.28,-11.3),(3.38,-12.9),(3.46,-16.7),(3.56,-12.9),(3.66,-10.7),(3.76,-9.1),(3.88,-11.3),(4.02,-13.6),(4.12,-16.7),(4.22,-10.0),(4.36,-8.4),(4.48,-11.3),(4.62,-10.0),(4.76,-8.4),(4.88,-10.0),(5.0,-6.8)]
f_h_up = [(-5.0,4.0),(-4.84,5.1),(-4.70,2.8),(-4.56,2.1),(-4.44,2.8),(-4.24,1.3),(-4.04,0.6),(-3.84,0.4),(-3.64,1.0),(-3.44,2.1),(-3.24,0.6),(-3.04,0.4),(-2.87,0.6),(-2.67,1.3),(-2.51,4.4),(-2.37,2.1),(-2.17,1.0),(-1.97,0.2),(-1.77,1.3),(-1.57,0.0),(-1.2,0.3),(-0.5,0.2),(0.5,0.3),(1.5,0.2),(2.0,0.5),(2.5,0.8),(3.0,1.2),(3.3,0.8),(3.6,1.5),(4.0,1.0),(4.4,1.4),(4.8,0.8),(5.0,1.0)]
f_h_dn = [(-5.0,-3.0),(-4.84,-3.9),(-4.70,-2.4),(-4.50,-4.7),(-4.24,-4.7),(-4.10,-3.2),(-3.96,-6.1),(-3.76,-5.5),(-3.56,-3.9),(-3.40,-2.1),(-3.24,-2.4),(-3.0,-2.4),(-2.87,-3.2),(-2.67,-3.9),(-2.49,-4.7),(-2.33,-3.2),(-2.13,-5.5),(-1.97,-3.9),(-1.85,-4.7),(-1.71,-3.9),(-1.57,-1.0),(-1.3,-0.3),(-0.8,-0.5),(0.0,-0.3),(0.8,-0.5),(1.3,-0.8),(1.77,-2.4),(1.97,-4.7),(2.09,-7.7),(2.29,-3.9),(2.43,-3.2),(2.63,-3.9),(2.77,-3.2),(2.99,-3.2),(3.16,-2.8),(3.36,-3.2),(3.56,-2.1),(3.8,-1.5),(4.1,-2.1),(4.4,-1.2),(4.7,-1.5),(5.0,-1.2)]
f_d_up = [(-5.0,5.0),(-4.84,5.7),(-4.74,4.4),(-4.64,7.3),(-4.46,6.6),(-4.36,8.0),(-4.24,6.6),(-4.10,5.7),(-4.00,3.5),(-3.86,2.8),(-3.76,5.1),(-3.66,9.6),(-3.56,12.9),(-3.46,11.1),(-3.34,8.0),(-3.24,5.1),(-3.14,8.9),(-3.00,9.6),(-2.89,8.0),(-2.75,11.1),(-2.63,13.4),(-2.53,21.5),(-2.43,14.7),(-2.33,11.8),(-2.23,9.6),(-2.13,6.6),(-2.03,11.8),(-1.91,9.6),(-1.81,6.6),(-1.71,3.5),(-1.57,2.1),(-1.4,0.5),(-1.0,0.8),(-0.5,0.3),(0.0,0.5),(0.5,0.3),(1.0,0.6),(1.5,0.4),(1.8,0.5),(2.0,1.0),(2.3,0.5),(2.6,1.0),(2.9,1.0),(3.16,1.3),(3.40,1.7),(3.7,1.0),(4.0,1.5),(4.3,1.0),(4.6,1.3),(5.0,1.0)]
f_d_dn = [(-5.0,-6.5),(-4.84,-7.7),(-4.70,-10.0),(-4.60,-10.7),(-4.50,-8.4),(-4.36,-6.8),(-4.24,-8.4),(-4.10,-6.8),(-3.98,-8.4),(-3.86,-6.8),(-3.76,-12.9),(-3.66,-11.3),(-3.54,-8.4),(-3.44,-7.7),(-3.34,-10.7),(-3.20,-7.7),(-3.06,-8.4),(-2.97,-8.8),(-2.85,-13.6),(-2.75,-14.5),(-2.61,-11.3),(-2.51,-12.2),(-2.45,-10.7),(-2.35,-14.5),(-2.25,-12.9),(-2.11,-10.7),(-1.97,-11.3),(-1.87,-10.7),(-1.77,-6.8),(-1.65,-3.2),(-1.51,-1.0),(-1.2,-0.5),(-0.8,-0.8),(-0.3,-0.3),(0.2,-0.5),(0.7,-0.3),(1.2,-0.6),(1.7,-1.0),(2.0,-1.5),(2.3,-1.2),(2.6,-2.0),(2.9,-1.5),(3.2,-2.0),(3.5,-1.6),(3.8,-2.2),(4.1,-1.5),(4.4,-2.0),(4.7,-1.6),(5.0,-2.0)]

x_ticks = [-4, -2, 0, 2, 4]
y_ticks = [-40, -20, 0, 20, 40]
series_labels = ['1', '2', '3']

INK = '#111111'
styles = [
    dict(lw=2.2, ls='-', solid_joinstyle='round'),
    dict(lw=2.4, ls=(0, (4.0, 1.7)), dash_joinstyle='round'),
    dict(lw=2.3, ls=(0, (0.1, 1.7)), dash_capstyle='round'),
]

# panel layout: axes rect, legend anchor, legend row spacing, handle length,
# DOS label position, E-Ef label position (figure coords)
panels = [
    ('(a)', [0.0570, 0.7101, 0.4047, 0.2505], (a_s_up, a_s_dn, a_h_up, a_h_dn, a_d_up, a_d_dn),
     (0.433, 0.937), 0.0, 3.5, (0.057, 0.987), (0.4617, 0.6815)),
    ('(b)', [0.5839, 0.7101, 0.4096, 0.2505], (b_s_up, b_s_dn, b_h_up, b_h_dn, b_d_up, b_d_dn),
     (0.400, 0.969), 0.15, 3.0, (0.584, 0.987), (0.9935, 0.6815)),
    ('(c)', [0.0570, 0.3815, 0.4047, 0.2556], (c_s_up, c_s_dn, c_h_up, c_h_dn, c_d_up, c_d_dn),
     (0.513, 0.911), 0.25, 3.0, (0.057, 0.664), (0.4617, 0.3518)),
    ('(d)', [0.5839, 0.3815, 0.4096, 0.2556], (d_s_up, d_s_dn, d_h_up, d_h_dn, d_d_up, d_d_dn),
     (0.449, 0.920), 0.15, 3.0, (0.554, 0.660), (0.9935, 0.3518)),
    ('(e)', [0.0570, 0.0501, 0.4047, 0.2556], (e_s_up, e_s_dn, e_h_up, e_h_dn, e_d_up, e_d_dn),
     (0.543, 0.924), 0.12, 2.9, (0.057, 0.327), (0.4617, 0.0215)),
    ('(f)', [0.5839, 0.0501, 0.4096, 0.2556], (f_s_up, f_s_dn, f_h_up, f_h_dn, f_d_up, f_d_dn),
     (0.437, 0.936), 0.12, 2.95, (0.556, 0.3235), (0.9935, 0.0212)),
]

fig = plt.figure(figsize=(12.28, 13.97), dpi=100)

for tag, rect, curves, leg_xy, lsp, hlen, dos_xy, xl_xy in panels:
    ax = fig.add_axes(rect)
    handles = []
    for k in range(3):
        st = styles[k]
        for j in range(2):
            E, g = zip(*curves[2 * k + j])
            ln, = ax.plot(E, g, color=INK, **st)
            if j == 0:
                handles.append(ln)
    ax.set_xlim(-5, 5)
    ax.set_ylim(-40, 40)
    ax.set_xticks(x_ticks)
    ax.set_yticks(y_ticks)
    ax.tick_params(direction='out', length=4, width=1.0, labelsize=16, colors='#222222',
                   labelcolor='black', pad=2)
    ax.tick_params(axis='x', pad=4)
    for sp in ax.spines.values():
        sp.set_linewidth(1.1)
        sp.set_color('#333333')
    ax.legend(handles, series_labels, loc='upper left', bbox_to_anchor=leg_xy,
              frameon=False, borderpad=0, borderaxespad=0, handlelength=hlen,
              handletextpad=0.35, labelspacing=lsp,
              prop={'family': 'Liberation Serif', 'style': 'italic', 'size': 17})
    ax.text(0.915, 0.12, tag, transform=ax.transAxes, ha='center', va='center', fontsize=18)
    fig.text(dos_xy[0], dos_xy[1], 'DOS, eV$^{-1}$', ha='left', va='center', fontsize=16)
    fig.text(xl_xy[0], xl_xy[1], '$E - E_f$, eV', ha='right', va='center', fontsize=16)

fig.savefig('out.png', dpi=100)
